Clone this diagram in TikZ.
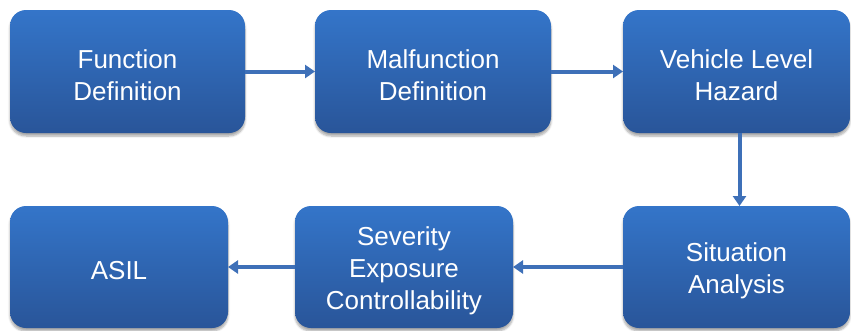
\documentclass[tikz,border=0pt]{standalone}
\usepackage{fontspec}
\setmainfont{Liberation Sans}
\usetikzlibrary{arrows.meta,shadows.blur}
\definecolor{boxtop}{RGB}{52,117,201}
\definecolor{boxbot}{RGB}{41,85,153}
\definecolor{arrcol}{RGB}{62,112,184}
\tikzset{
  box/.style={rounded corners=16pt, top color=boxtop, bottom color=boxbot, draw=none,
    inner sep=0pt, outer sep=0pt,
    blur shadow={shadow xshift=0pt, shadow yshift=-3pt, shadow blur steps=6, shadow opacity=35}},
  lbl/.style={align=center, text=white, inner sep=0pt, yshift=-4pt,
    font=\fontsize{26}{32}\selectfont},
  arr/.style={draw=arrcol, line width=4pt, -{Triangle[length=10pt,width=13pt]}}
}
\begin{document}
\begin{tikzpicture}[x=1pt,y=-1pt]
\useasboundingbox (0,0) rectangle (851,330);
\node[box, minimum width=235pt, minimum height=123pt, label={[lbl]center:{Function\\Definition}}] (f) at (127.5,71.5) {};
\node[box, minimum width=236pt, minimum height=123pt, label={[lbl]center:{Malfunction\\Definition}}] (m) at (433,71.5) {};
\node[box, minimum width=227pt, minimum height=123pt, label={[lbl]center:{Vehicle Level\\Hazard}}] (v) at (736.5,71.5) {};
\node[box, minimum width=218pt, minimum height=122pt, label={[lbl]center:{ASIL}}] (a) at (119,267) {};
\node[box, minimum width=218pt, minimum height=122pt, label={[lbl]center:{Severity\\Exposure\\Controllability}}] (e) at (404,267) {};
\node[box, minimum width=227pt, minimum height=122pt, label={[lbl]center:{Situation\\Analysis}}] (s) at (736.5,267) {};
\draw[arr] (f.east) -- (m.west);
\draw[arr] (m.east) -- (v.west);
\draw[arr] ([xshift=3pt]v.south) -- ([xshift=3pt]s.north);
\draw[arr] (s.west) -- (e.east);
\draw[arr] (e.west) -- (a.east);
\end{tikzpicture}
\end{document}
